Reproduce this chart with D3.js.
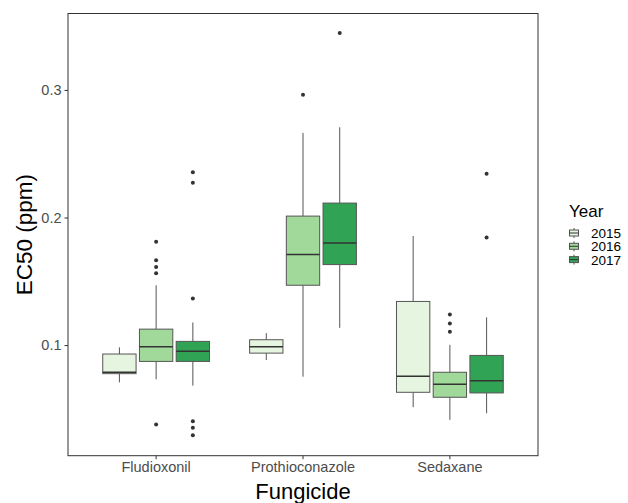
<!DOCTYPE html>
<meta charset='utf-8'>
<style>
  body { margin: 0; background: #fff; font-family: 'Liberation Sans', Arial, sans-serif; }
  .axis text { fill: #4d4d4d; font-size: 14.5px; }
  .axis line { stroke: #333; }
  .axis path { display: none; }
</style>
<body>
<script src='https://d3js.org/d3.v7.min.js'></script>
<script>
  const fungicides = ['Fludioxonil', 'Prothioconazole', 'Sedaxane']
  const years = ['2015', '2016', '2017']
  const yearColors = ['#e5f5e0', '#a1d99b', '#31a354']
  const yTicks = [0.1, 0.2, 0.3]

  // per box: [whiskerLow, q1, median, q3, whiskerHigh], outliers
  const fludioxonil = [
    {year: '2015', stats: [0.0708, 0.0776, 0.0787, 0.093, 0.0982], out: []},
    {year: '2016', stats: [0.0732, 0.0872, 0.0987, 0.1125, 0.1469], out: [0.181, 0.1665, 0.1612, 0.1563, 0.0377]},
    {year: '2017', stats: [0.0682, 0.0872, 0.0951, 0.1029, 0.1177], out: [0.2355, 0.2272, 0.1365, 0.0403, 0.0353, 0.0294]}
  ]
  const prothioconazole = [
    {year: '2015', stats: [0.0883, 0.0937, 0.0987, 0.1042, 0.1094], out: []},
    {year: '2016', stats: [0.0752, 0.1469, 0.1711, 0.2011, 0.2663], out: [0.2962]},
    {year: '2017', stats: [0.1135, 0.1631, 0.18, 0.2113, 0.2707], out: [0.3447]}
  ]
  const sedaxane = [
    {year: '2015', stats: [0.0513, 0.063, 0.0755, 0.1342, 0.1855], out: []},
    {year: '2016', stats: [0.0414, 0.0591, 0.0693, 0.0787, 0.1002], out: [0.124, 0.117, 0.1104]},
    {year: '2017', stats: [0.0466, 0.0625, 0.0721, 0.0919, 0.1217], out: [0.2342, 0.1844]}
  ]

  const boxes = []
  ;[fludioxonil, prothioconazole, sedaxane].forEach((arr, i) => {
    arr.forEach(b => boxes.push(Object.assign({fungicide: fungicides[i]}, b)))
  })

  const W = 628, H = 503
  const panel = {left: 68, top: 13.5, right: 538, bottom: 455.7}

  const svg = d3.select('body').append('svg')
    .attr('width', W).attr('height', H)

  const x = d3.scaleBand().domain(fungicides)
    .range([panel.left, panel.right]).paddingOuter(0.1).paddingInner(0)
  // ggplot discrete axis: 0.6 units expansion each side
  const unit = (panel.right - panel.left) / 3.2
  const xc = f => panel.left + unit * (0.6 + fungicides.indexOf(f))
  const xYear = d3.scalePoint().domain(years).range([-unit * 0.25, unit * 0.25])
  const boxW = unit * 0.227

  const y = d3.scaleLinear().domain([0.0133, 0.3599]).range([panel.bottom, panel.top])
  const color = d3.scaleOrdinal().domain(years).range(yearColors)

  // panel border
  svg.append('rect')
    .attr('x', panel.left).attr('y', panel.top)
    .attr('width', panel.right - panel.left).attr('height', panel.bottom - panel.top)
    .attr('fill', 'none').attr('stroke', '#333').attr('stroke-width', 1)

  const g = svg.append('g')
  const bx = g.selectAll('g.box').data(boxes).join('g')
    .attr('transform', d => `translate(${xc(d.fungicide) + xYear(d.year)},0)`)

  bx.append('line').attr('x1', 0).attr('x2', 0)
    .attr('y1', d => y(d.stats[4])).attr('y2', d => y(d.stats[3]))
    .attr('stroke', '#555').attr('stroke-width', 1)
  bx.append('line').attr('x1', 0).attr('x2', 0)
    .attr('y1', d => y(d.stats[1])).attr('y2', d => y(d.stats[0]))
    .attr('stroke', '#555').attr('stroke-width', 1)
  bx.append('rect')
    .attr('x', -boxW / 2).attr('width', boxW)
    .attr('y', d => y(d.stats[3])).attr('height', d => y(d.stats[1]) - y(d.stats[3]))
    .attr('fill', d => color(d.year)).attr('stroke', '#555').attr('stroke-width', 1)
  bx.append('line').attr('x1', -boxW / 2).attr('x2', boxW / 2)
    .attr('y1', d => y(d.stats[2])).attr('y2', d => y(d.stats[2]))
    .attr('stroke', '#333').attr('stroke-width', 1.5)
  bx.selectAll('circle').data(d => d.out).join('circle')
    .attr('cx', 0).attr('cy', v => y(v)).attr('r', 2)
    .attr('fill', '#333')

  // axes
  svg.append('g').attr('class', 'axis')
    .attr('transform', `translate(${panel.left},0)`)
    .call(d3.axisLeft(y).tickValues(yTicks).tickSize(3.5).tickPadding(3).tickFormat(d3.format('.1f')))
  const xAxis = d3.axisBottom(x).tickSize(3.5).tickPadding(3)
  svg.append('g').attr('class', 'axis')
    .attr('transform', `translate(0,${panel.bottom})`)
    .call(xAxis)
    .selectAll('.tick').attr('transform', f => `translate(${xc(f)},0)`)

  svg.append('text')
    .attr('x', (panel.left + panel.right) / 2).attr('y', 499)
    .attr('text-anchor', 'middle').attr('font-size', 22).attr('fill', '#000')
    .text('Fungicide')
  svg.append('text')
    .attr('transform', `translate(32,${(panel.top + panel.bottom) / 2}) rotate(-90)`)
    .attr('text-anchor', 'middle').attr('font-size', 22.5).attr('fill', '#000')
    .text('EC50 (ppm)')

  // legend
  const lg = svg.append('g').attr('transform', 'translate(569,0)')
  lg.append('text').attr('x', 0).attr('y', 216.5).attr('font-size', 17).attr('fill', '#000').text('Year')
  const items = lg.selectAll('g.item').data(years).join('g')
    .attr('transform', (d, i) => `translate(0,${238 + i * 13.3})`)
  items.append('line').attr('x1', 5).attr('x2', 5).attr('y1', -10).attr('y2', 0).attr('stroke', '#555')
  items.append('rect').attr('x', 0.5).attr('y', -8).attr('width', 9).attr('height', 6)
    .attr('fill', d => color(d)).attr('stroke', '#555')
  items.append('line').attr('x1', 0.5).attr('x2', 9.5).attr('y1', -5).attr('y2', -5).attr('stroke', '#333')
  items.append('text').attr('x', 22).attr('y', 0).attr('font-size', 13.5).attr('fill', '#000').text(d => d)
</script>
</body>
